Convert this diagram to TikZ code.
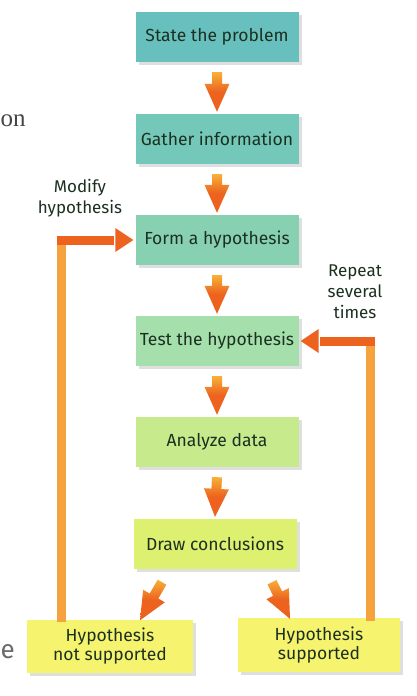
\documentclass[tikz,border=0pt]{standalone}
\usepackage{fontspec}
\setmainfont{Fira Sans}
\newfontfamily\serifpage{Liberation Serif}
\usetikzlibrary{shadows,calc}
\definecolor{txt}{RGB}{28,48,32}
\definecolor{cA}{RGB}{104,192,190}
\definecolor{cB}{RGB}{116,200,186}
\definecolor{cC}{RGB}{136,208,178}
\definecolor{cD}{RGB}{165,224,172}
\definecolor{cE}{RGB}{198,234,140}
\definecolor{cF}{RGB}{222,240,112}
\definecolor{cG}{RGB}{246,244,110}
\definecolor{arrOr}{RGB}{236,98,30}
\definecolor{arrYe}{RGB}{248,176,56}
\definecolor{loopOr}{RGB}{246,162,62}
\definecolor{pagegray}{RGB}{70,70,70}
\tikzset{
  stepbox/.style={minimum width=163pt, minimum height=50pt, inner sep=2pt,
    font=\fontsize{17.5}{19.5}\selectfont, text=txt, align=center,
    drop shadow={opacity=0.25, shadow xshift=3pt, shadow yshift=-3pt}},
  fatshade/.style={top color=arrYe, bottom color=arrOr, middle color=arrOr},
  looparrow/.style={draw=arrOr, line width=9pt},
  loopline/.style={draw=loopOr, line width=9pt},
  note/.style={font=\fontsize{17}{21}\selectfont, text=txt, align=center},
}
% fat arrow polygon from start #1 to tip #2, shaft 10pt, head 25pt wide, 28pt long
\newcommand\fatarrow[2]{%
  \coordinate (fa-h) at ($(#2)!28pt!(#1)$);
  \shade[fatshade]
    ($(#1)!5pt!90:(#2)$) -- ($(fa-h)!5pt!90:(#2)$) -- ($(fa-h)!12.5pt!90:(#2)$)
    -- (#2) -- ($(fa-h)!12.5pt!-90:(#2)$) -- ($(fa-h)!5pt!-90:(#2)$)
    -- ($(#1)!5pt!-90:(#2)$) -- cycle;}
% loop arrow head: tip #2, coming from #1, head 24pt wide, 18pt long
\newcommand\loophead[2]{%
  \coordinate (lh-h) at ($(#2)!18pt!(#1)$);
  \fill[arrOr] ($(lh-h)!12pt!90:(#2)$) -- (#2) -- ($(lh-h)!12pt!-90:(#2)$) -- cycle;
  \draw[looparrow] (#1) -- ($(lh-h)!-1pt!(#2)$);}
\begin{document}
\begin{tikzpicture}[x=1pt,y=-1pt]
\useasboundingbox[fill=white] (0,0) rectangle (416,696);
% boxes
\node[stepbox, fill=cA] (s1) at (217,37) {State the problem};
\node[stepbox, fill=cB] (s2) at (217,139) {Gather information};
\node[stepbox, fill=cC] (s3) at (217,240) {Form a hypothesis};
\node[stepbox, fill=cD] (s4) at (217,341) {Test the hypothesis};
\node[stepbox, fill=cE] (s5) at (217,442) {Analyze data};
\node[stepbox, fill=cF] (s6) at (215,544) {Draw conclusions};
\node[stepbox, fill=cG, minimum width=166pt, minimum height=53pt] (h1) at (110,646) {Hypothesis\\not supported};
\node[stepbox, fill=cG, minimum width=162pt, minimum height=54pt] (h2) at (319,645) {Hypothesis\\supported};
% down arrows
\foreach \a/\b in {s1/s2,s2/s3,s3/s4,s4/s5,s5/s6}{
  \coordinate (p) at ([yshift=-10pt]\a.south);
  \coordinate (q) at ([yshift=2pt]\b.north);
  \fatarrow{p}{q}
}
% diagonal arrows
\coordinate (d1s) at ($(s6.south)+(-53,13)$);
\coordinate (d1e) at ([xshift=30pt,yshift=-1pt]h1.north);
\coordinate (d2s) at ($(s6.south)+(57,13)$);
\coordinate (d2e) at ([xshift=-29pt,yshift=-1pt]h2.north);
\fatarrow{d1s}{d1e}
\fatarrow{d2s}{d2e}
% loops
\coordinate (lb) at ([yshift=-3pt]h1.north -| 61,0);
\coordinate (lt) at (s3.west -| 61,0);
\coordinate (lq) at ([xshift=-2pt]s3.west);
\draw[loopline] (lb) -- ([yshift=-4.5pt]lt);
\coordinate (ls) at ([xshift=-4.5pt]lt);
\loophead{ls}{lq}
\coordinate (rb) at ([yshift=-3pt]h2.north -| 370,0);
\coordinate (rt) at (s4.east -| 370,0);
\coordinate (rq) at ([xshift=2pt]s4.east);
\draw[loopline] (rb) -- ([yshift=-4.5pt]rt);
\coordinate (rs) at ([xshift=4.5pt]rt);
\loophead{rs}{rq}
% labels
\node[note] (mod) at (80,198) {Modify\\hypothesis};
\node[note] (rep) at (355,292) {Repeat\\several\\times};
% page fragments
\node[font=\serifpage\fontsize{25}{25}\selectfont, text=pagegray, anchor=base west, inner sep=0pt] (f1) at (0.5,126) {on};
\node[font=\fontsize{26}{26}\selectfont, text=pagegray!80, anchor=base west, inner sep=0pt] (f2) at (0.5,658) {e};
\end{tikzpicture}
\end{document}
